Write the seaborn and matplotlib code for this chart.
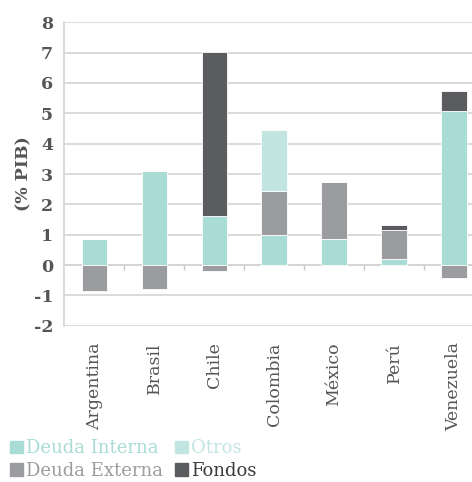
import numpy as np
import pandas as pd
import matplotlib
matplotlib.use("Agg")
import matplotlib.pyplot as plt
import seaborn as sns
from matplotlib.patches import Patch

countries = ["Argentina", "Brasil", "Chile", "Colombia", "México", "Perú", "Venezuela"]
deuda_interna = [0.85, 3.10, 1.62, 0.98, 0.85, 0.20, 5.06]
deuda_externa = [-0.85, -0.78, -0.18, 1.46, 1.89, 0.95, -0.44]
otros = [0.0, 0.0, 0.0, 2.02, 0.0, 0.0, 0.0]
fondos = [0.0, 0.0, 5.40, 0.0, 0.0, 0.17, 0.66]

c_int = "#a8dcd5"
c_otr = "#c2e5e1"
c_ext = "#9b9c9f"
c_fon = "#5b5c60"
txt = "#555555"

df = pd.DataFrame({"pais": countries, "interna": deuda_interna, "externa": deuda_externa,
                   "otros": otros, "fondos": fondos})
ext_pos = df["externa"].clip(lower=0)
base_ext = np.where(df["externa"] > 0, df["interna"], 0)
base_otr = df["interna"] + ext_pos
base_fon = df["interna"] + ext_pos + df["otros"]

sns.set_style("white")
plt.rcParams["font.family"] = ["DejaVu Serif"]
plt.rcParams["axes.unicode_minus"] = False

fig = plt.figure(figsize=(4.72, 4.82), dpi=100)
ax = fig.add_axes([0.136, 0.324, 0.864, 0.63])

w = 0.42
sns.barplot(data=df, x="pais", y="interna", color=c_int, width=w, saturation=1, ax=ax)
sns.barplot(data=df, x="pais", y="externa", bottom=base_ext, color=c_ext, width=w, saturation=1, ax=ax)
sns.barplot(data=df, x="pais", y="otros", bottom=base_otr, color=c_otr, width=w, saturation=1, ax=ax)
sns.barplot(data=df, x="pais", y="fondos", bottom=base_fon, color=c_fon, width=w, saturation=1, ax=ax)
for p in ax.patches:
    p.set_edgecolor("white")
    p.set_linewidth(0.6)

ax.set_ylim(-2, 8)
ax.set_yticks(range(-2, 9))
ax.set_xlim(-0.5, len(countries) - 0.7)
ax.yaxis.grid(True, color="#d4d4d4", linewidth=1.2)
ax.set_axisbelow(True)
for s in ["top", "right", "bottom"]:
    ax.spines[s].set_visible(False)
ax.spines["left"].set_color("#d4d4d4")
ax.spines["left"].set_linewidth(1.2)
ax.axhline(0, color="#d4d4d4", linewidth=1.2, zorder=0.5)
ax.vlines(np.arange(1, len(countries)) - 0.5, -0.15, 0, color="#c8c8c8", linewidth=1, zorder=0.5)

ax.tick_params(axis="y", length=5, color="#d4d4d4", labelsize=12.5, labelcolor=txt, pad=3)
for t in ax.get_yticklabels():
    t.set_fontweight("bold")
ax.tick_params(axis="x", length=0, labelsize=12.5, labelcolor=txt, pad=12)
plt.setp(ax.get_xticklabels(), rotation=90)
ax.set_xlabel("")
ax.set_ylabel("(% PIB)", fontsize=12.5, color=txt, fontweight="bold", labelpad=1)

handles = [Patch(color=c_int, label="Deuda Interna"), Patch(color=c_ext, label="Deuda Externa"),
           Patch(color=c_otr, label="Otros"), Patch(color=c_fon, label="Fondos")]
leg = fig.legend(handles=handles, ncol=2, loc="lower left", bbox_to_anchor=(-0.005, -0.022),
                 frameon=False, fontsize=13, labelcolor=[c_int, c_ext, c_otr, "#3a3a3c"],
                 handlelength=0.7, handleheight=0.7, handletextpad=0.15, columnspacing=0.7,
                 labelspacing=0.25, borderpad=0.2)

fig.savefig("out.png", dpi=100)
